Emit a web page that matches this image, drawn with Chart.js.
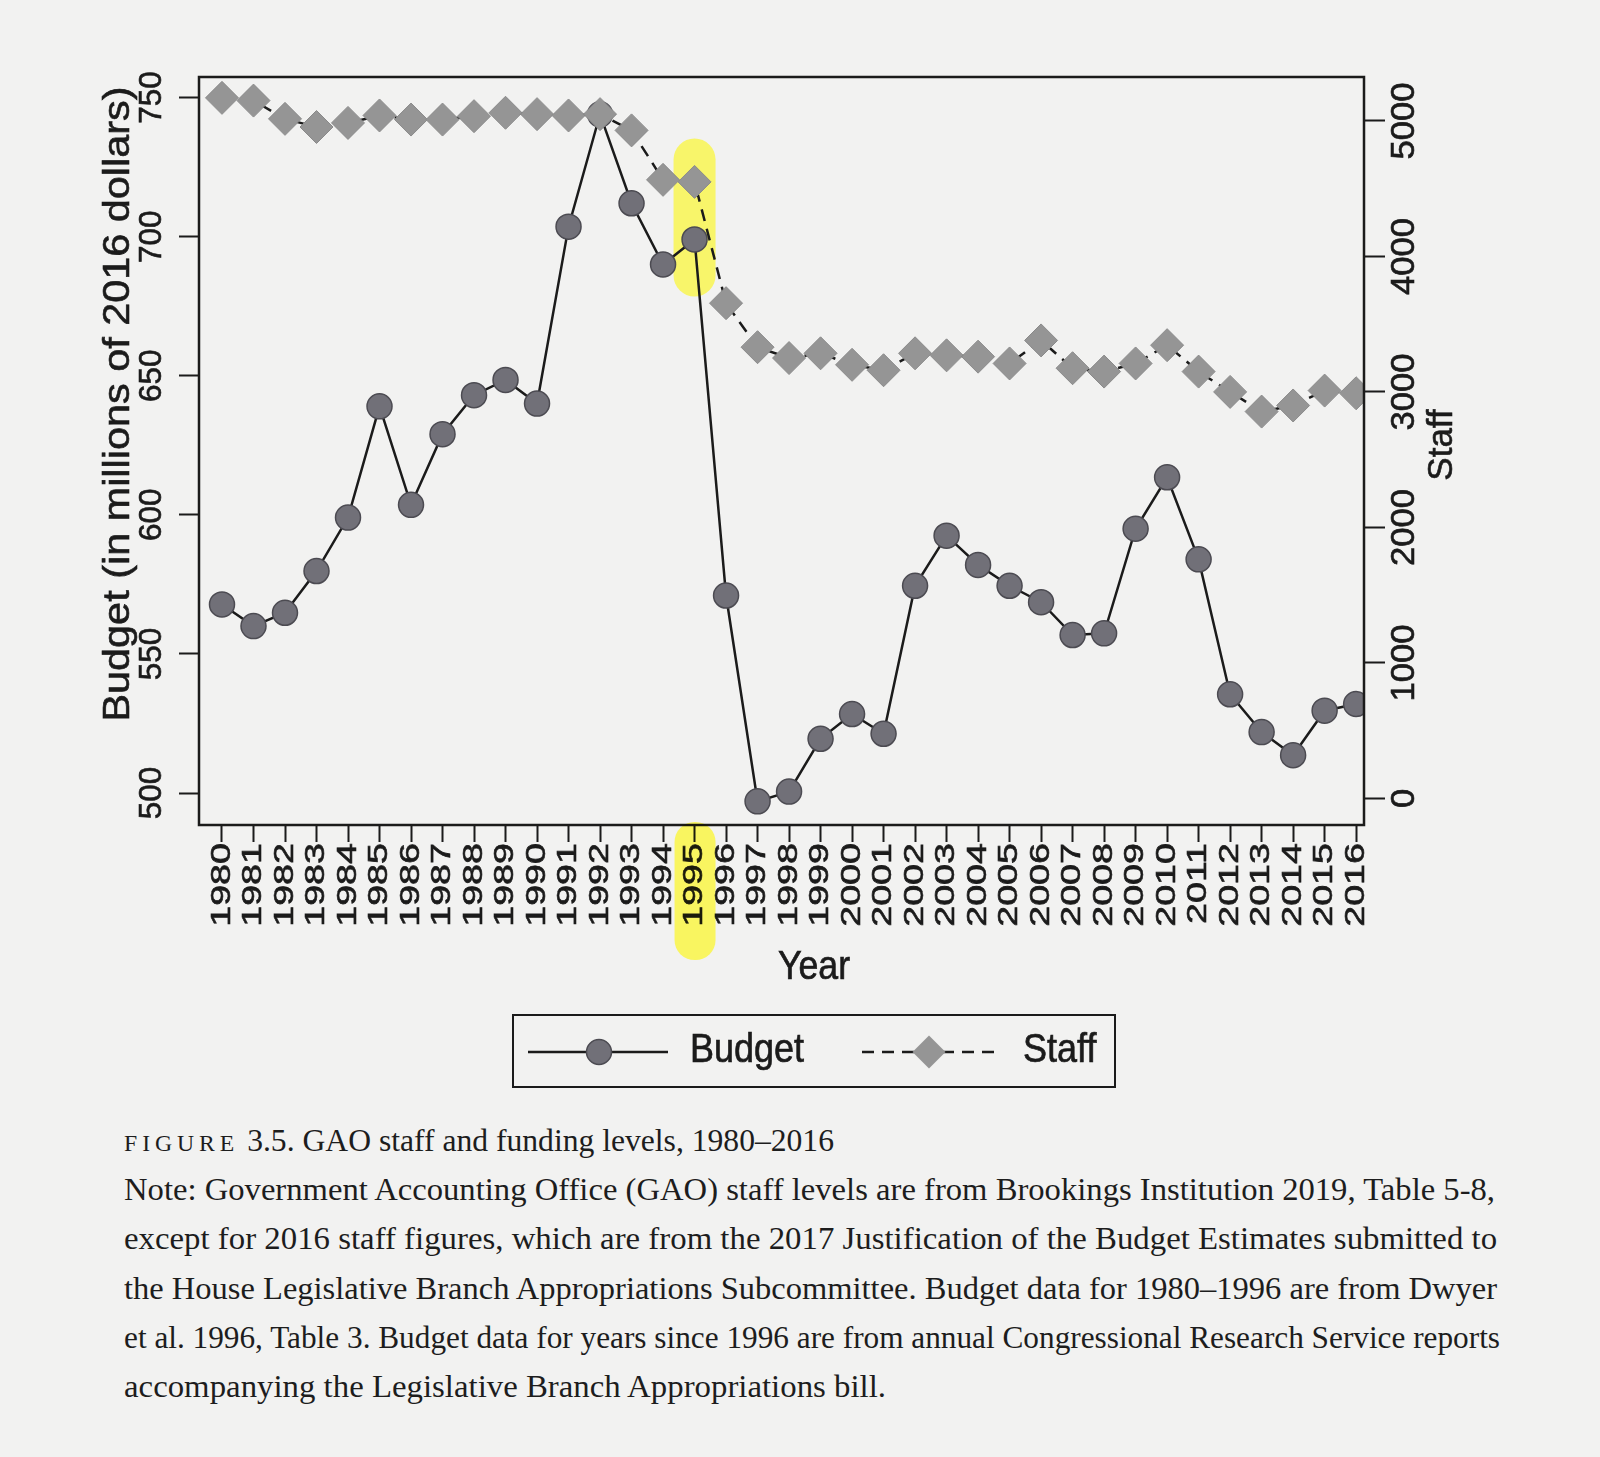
<!DOCTYPE html>
<html>
<head>
<meta charset="utf-8">
<script src="https://cdn.jsdelivr.net/npm/chart.js@4.4.1/dist/chart.umd.min.js"></script>
<style>
  html, body { margin: 0; padding: 0; background: #f2f2f1; }
  #wrap { position: relative; width: 1600px; height: 1457px; overflow: hidden; }
  #chart { position: absolute; left: 0; top: 0; }
  .cap { position: absolute; left: 124px; font-family: "Liberation Serif", "DejaVu Serif", serif;
         font-size: 32px; line-height: 37px; color: #1d1d1d; white-space: nowrap; transform-origin: 0 50%; }
  .fig { font-size: 24px; letter-spacing: 5px; }
</style>
</head>
<body>
<div id="wrap">
  <canvas id="chart" width="1600" height="1110"></canvas>
  <div class="cap" data-w="710" style="top:1122px"><span class="fig">FIGURE</span> 3.5. GAO staff and funding levels, 1980–2016</div>
  <div class="cap" data-w="1371" style="top:1171px">Note: Government Accounting Office (GAO) staff levels are from Brookings Institution 2019, Table 5-8,</div>
  <div class="cap" data-w="1373" style="top:1220px">except for 2016 staff figures, which are from the 2017 Justification of the Budget Estimates submitted to</div>
  <div class="cap" data-w="1373" style="top:1270px">the House Legislative Branch Appropriations Subcommittee. Budget data for 1980–1996 are from Dwyer</div>
  <div class="cap" data-w="1376" style="top:1319px">et al. 1996, Table 3. Budget data for years since 1996 are from annual Congressional Research Service reports</div>
  <div class="cap" data-w="762" style="top:1368px">accompanying the Legislative Branch Appropriations bill.</div>
</div>
<script>
// years on the x axis
const years = [1980, 1981, 1982, 1983, 1984, 1985, 1986, 1987, 1988, 1989,
  1990, 1991, 1992, 1993, 1994, 1995, 1996, 1997, 1998, 1999,
  2000, 2001, 2002, 2003, 2004, 2005, 2006, 2007, 2008, 2009,
  2010, 2011, 2012, 2013, 2014, 2015, 2016];

// budget, millions of 2016 dollars (left axis)
const budget = [567.8, 560, 564.8, 579.8, 599, 639, 603.6, 629, 643, 648.5,
  640, 703.6, 744, 712, 690, 699, 571, 497, 500.5, 519.5,
  528.4, 521.3, 574.5, 592.5, 582, 574.5, 568.6, 556.8, 557.4, 595,
  613.5, 584, 535.5, 521.9, 513.6, 529.6, 532];

// staff (right axis)
const staff = [5170, 5150, 5015, 4955, 4985, 5040, 5010, 5010, 5035, 5060,
  5050, 5040, 5050, 4930, 4565, 4550, 3655, 3330, 3250, 3285,
  3200, 3160, 3285, 3270, 3260, 3210, 3380, 3175, 3150, 3210,
  3345, 3150, 3000, 2855, 2900, 3010, 2990];

const budgetTicks = [500, 550, 600, 650, 700, 750];
const staffTicks = [0, 1000, 2000, 3000, 4000, 5000];
const highlightYear = 1995;

const FONT = '"Liberation Sans", Arial, sans-serif';
const INK = '#1b1b1b';
const BUDGET_FILL = '#717078', BUDGET_EDGE = '#4c4b52';
const STAFF_FILL = '#959595';

// text drawn rotated and stretched along its own direction (the printed graph is stretched vertically)
function drawText(ctx, text, x, y, size, angle, stretch, align) {
  ctx.save();
  ctx.translate(x, y);
  ctx.rotate(angle);
  ctx.scale(stretch[0], stretch[1]);
  ctx.font = size + 'px ' + FONT;
  ctx.fillStyle = INK;
  ctx.strokeStyle = INK;
  ctx.lineWidth = 0.6;
  ctx.textAlign = align;
  ctx.textBaseline = 'middle';
  ctx.fillText(text, 0, 0);
  ctx.strokeText(text, 0, 0);
  ctx.restore();
}

const extras = {
  id: 'extras',
  beforeDatasetsDraw(chart) {
    const { ctx } = chart;
    const x = chart.scales.x, yl = chart.scales.y;
    ctx.save();
    // highlighter mark around the 1995 points
    ctx.fillStyle = 'rgba(250, 245, 60, 0.75)';
    const cx = x.getPixelForValue(highlightYear);
    const top = yl.getPixelForValue(735.3), bot = yl.getPixelForValue(678.5);
    ctx.beginPath();
    ctx.roundRect(cx - 21, top, 42, bot - top, 21);
    ctx.fill();
    ctx.restore();
  },
  afterDraw(chart) {
    const { ctx, chartArea } = chart;
    const x = chart.scales.x, yl = chart.scales.y, yr = chart.scales.y1;
    const up = -Math.PI / 2;
    ctx.save();
    // frame
    ctx.strokeStyle = INK;
    ctx.lineWidth = 2.5;
    ctx.strokeRect(chartArea.left, chartArea.top, chartArea.right - chartArea.left, chartArea.bottom - chartArea.top);

    // tick labels
    x.ticks.forEach(t => {
      drawText(ctx, String(t.value), x.getPixelForValue(t.value), chartArea.bottom + 18, 27.5, up, [1.37, 1], 'right');
    });
    yl.ticks.forEach(t => {
      drawText(ctx, String(t.value), chartArea.left - 47, yl.getPixelForValue(t.value), 31.5, up, [1, 1], 'center');
    });
    yr.ticks.forEach(t => {
      drawText(ctx, String(t.value), chartArea.right + 41, yr.getPixelForValue(t.value), 33, up, [1.05, 1], 'center');
    });

    // axis titles
    drawText(ctx, 'Budget (in millions of 2016 dollars)', chartArea.left - 80, chartArea.top + 327, 36, up, [1.15, 1], 'center');
    drawText(ctx, 'Staff', chartArea.right + 78, chartArea.top + 368, 35, up, [1, 1], 'center');
    drawText(ctx, 'Year', 814, chartArea.bottom + 143, 35, 0, [1.02, 1.17], 'center');

    // highlighter over the 1995 tick label
    ctx.globalCompositeOperation = 'multiply';
    ctx.fillStyle = 'rgba(250, 245, 60, 0.8)';
    const cx = x.getPixelForValue(highlightYear);
    ctx.beginPath();
    ctx.roundRect(cx - 20, chartArea.bottom - 3, 41, 138, 20);
    ctx.fill();
    ctx.globalCompositeOperation = 'source-over';

    // legend
    const lx = 513, ly = 1015, lw = 602, lh = 72, my = ly + 37;
    ctx.lineWidth = 2;
    ctx.strokeStyle = INK;
    ctx.strokeRect(lx, ly, lw, lh);
    ctx.lineWidth = 2.5;
    ctx.beginPath(); ctx.moveTo(528, my); ctx.lineTo(668, my); ctx.stroke();
    ctx.beginPath(); ctx.arc(599, my, 12.5, 0, Math.PI * 2);
    ctx.fillStyle = BUDGET_FILL; ctx.fill();
    ctx.lineWidth = 1.5; ctx.strokeStyle = BUDGET_EDGE; ctx.stroke();
    ctx.setLineDash([12, 8]);
    ctx.lineWidth = 2.5; ctx.strokeStyle = INK;
    ctx.beginPath(); ctx.moveTo(862, my); ctx.lineTo(1002, my); ctx.stroke();
    ctx.setLineDash([]);
    ctx.beginPath();
    ctx.moveTo(929, my - 16.5); ctx.lineTo(945.5, my); ctx.lineTo(929, my + 16.5); ctx.lineTo(912.5, my); ctx.closePath();
    ctx.fillStyle = STAFF_FILL; ctx.fill();
    drawText(ctx, 'Budget', 690, my - 1, 36, 0, [1, 1.15], 'left');
    drawText(ctx, 'Staff', 1023, my - 1, 36, 0, [1, 1.15], 'left');
    ctx.restore();
  }
};

const hiddenTicks = { display: false };

new Chart(document.getElementById('chart'), {
  type: 'line',
  data: {
    datasets: [
      {
        label: 'Budget',
        data: years.map((yr, i) => ({ x: yr, y: budget[i] })),
        yAxisID: 'y',
        borderColor: INK,
        borderWidth: 2.5,
        pointStyle: 'circle',
        pointRadius: 12.5,
        pointBackgroundColor: BUDGET_FILL,
        pointBorderColor: BUDGET_EDGE,
        pointBorderWidth: 1.5,
        tension: 0,
        order: 2
      },
      {
        label: 'Staff',
        data: years.map((yr, i) => ({ x: yr, y: staff[i] })),
        yAxisID: 'y1',
        borderColor: INK,
        borderWidth: 2.5,
        borderDash: [12, 8],
        pointStyle: 'rectRot',
        pointRadius: 16.5,
        pointBackgroundColor: STAFF_FILL,
        pointBorderColor: '#8a8a8a',
        pointBorderWidth: 1,
        tension: 0,
        order: 1
      }
    ]
  },
  options: {
    responsive: false,
    animation: false,
    devicePixelRatio: 1,
    layout: { padding: { left: 109, right: 133, top: 77, bottom: 135 } },
    plugins: { legend: { display: false }, tooltip: { enabled: false } },
    scales: {
      x: {
        type: 'linear',
        min: 1979.27,
        max: 2016.25,
        afterBuildTicks: s => { s.ticks = years.map(v => ({ value: v })); },
        afterFit: s => { s.height = 150; },
        grid: { drawOnChartArea: false, color: INK, tickLength: 17, tickWidth: 2 },
        border: { display: false },
        ticks: hiddenTicks
      },
      y: {
        position: 'left',
        min: 488.5,
        max: 757.4,
        afterBuildTicks: s => { s.ticks = budgetTicks.map(v => ({ value: v })); },
        afterFit: s => { s.width = 90; },
        grid: { drawOnChartArea: false, color: INK, tickLength: 20, tickWidth: 2 },
        border: { display: false },
        ticks: hiddenTicks
      },
      y1: {
        position: 'right',
        min: -196,
        max: 5324,
        afterBuildTicks: s => { s.ticks = staffTicks.map(v => ({ value: v })); },
        afterFit: s => { s.width = 103; },
        grid: { drawOnChartArea: false, color: INK, tickLength: 21, tickWidth: 2 },
        border: { display: false },
        ticks: hiddenTicks
      }
    }
  },
  plugins: [extras]
});

// fit caption lines to the printed line widths
document.querySelectorAll('.cap').forEach(el => {
  const target = +el.dataset.w;
  const w = el.getBoundingClientRect().width;
  el.style.transform = 'scaleX(' + (target / w).toFixed(4) + ')';
});
</script>
</body>
</html>
